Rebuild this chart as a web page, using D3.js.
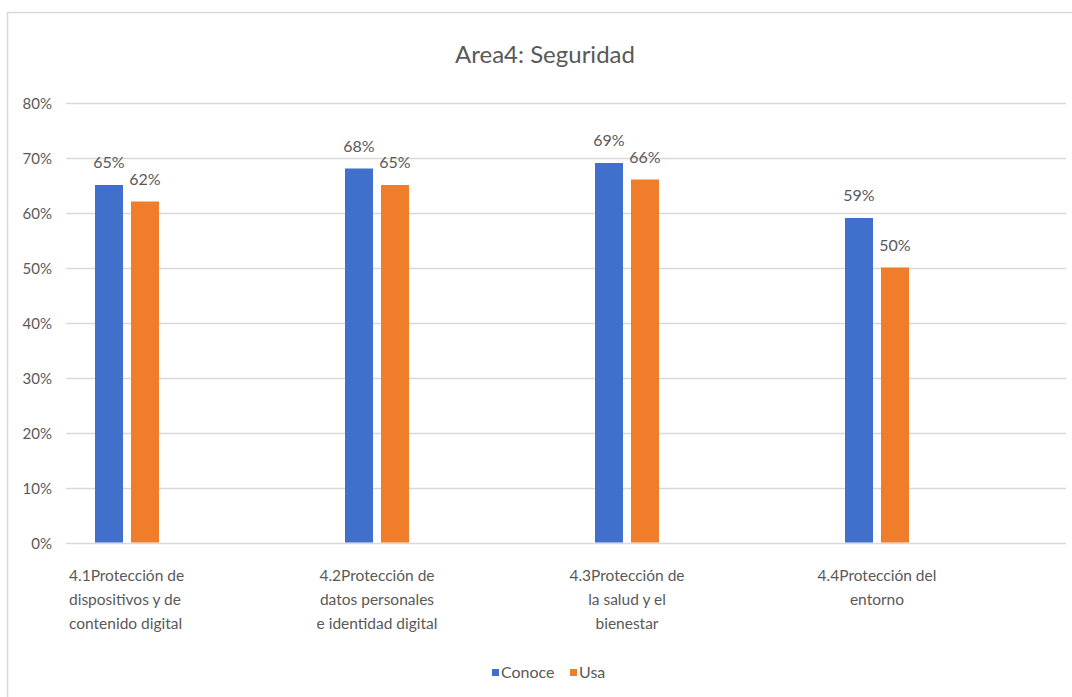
<!DOCTYPE html>
<html>
<head>
<meta charset="utf-8">
<script src="https://cdn.jsdelivr.net/npm/d3@7"></script>
<style>
  html, body { margin: 0; padding: 0; background: #fff; }
  svg { display: block; }
  text { font-family: Lato, "Noto Sans", sans-serif; fill: #595959; }
</style>
</head>
<body>
<svg id="chart" width="1072" height="697"></svg>
<script>
// Chart content
const title = "Area4: Seguridad";
const categories = [
  "4.1Protección de\ndispositivos y de\ncontenido digital",
  "4.2Protección de\ndatos personales\ne identidad digital",
  "4.3Protección de\nla salud y el\nbienestar",
  "4.4Protección del\nentorno"
];
const seriesNames = ["Conoce", "Usa"];
const conoce = [0.65, 0.68, 0.69, 0.59];
const usa = [0.62, 0.65, 0.66, 0.50];
const yTicks = [0, 0.1, 0.2, 0.3, 0.4, 0.5, 0.6, 0.7, 0.8];
const colors = ["#4170cc", "#f07d2a"];

const seriesValues = [conoce, usa];
const rows = categories.map((c, i) => ({
  cat: c,
  values: seriesNames.map((s, j) => ({ series: s, value: seriesValues[j][i] }))
}));

const svg = d3.select("#chart");

// frame
svg.append("path")
  .attr("d", "M7.5,697 V12.5 H1072")
  .attr("fill", "none")
  .attr("stroke", "#d9d9d9")
  .attr("stroke-width", 1.5);

const y = d3.scaleLinear().domain([0, 0.8]).range([542.5, 102.5]);
const x0 = d3.scaleBand().domain(categories).range([2, 1002]).padding(0);
const x1 = d3.scaleBand().domain(seriesNames).range([-32, 32]).paddingInner(0.222).paddingOuter(0);
const color = d3.scaleOrdinal().domain(seriesNames).range(colors);
const center = c => x0(c) + x0.bandwidth() / 2;

// title
svg.append("text")
  .attr("x", 545).attr("y", 63)
  .attr("text-anchor", "middle")
  .style("font-size", "24px")
  .text(title);

// gridlines + y axis labels
const grid = svg.append("g");
grid.selectAll("line").data(yTicks).join("line")
  .attr("x1", 66).attr("x2", 1066)
  .attr("y1", d => Math.round(y(d)) + 0.5)
  .attr("y2", d => Math.round(y(d)) + 0.5)
  .attr("stroke", "#d9d9d9")
  .attr("stroke-width", 1.3);

const fmt = d3.format(".0%");
grid.selectAll("text").data(yTicks).join("text")
  .attr("x", 52)
  .attr("y", d => y(d) + 6)
  .attr("text-anchor", "end")
  .style("font-size", "15px")
  .text(d => fmt(d));

// bars
const groups = svg.append("g").selectAll("g").data(rows).join("g")
  .attr("transform", d => `translate(${center(d.cat)},0)`);

groups.selectAll("rect").data(d => d.values).join("rect")
  .attr("x", d => x1(d.series))
  .attr("width", x1.bandwidth())
  .attr("y", d => y(d.value))
  .attr("height", d => y(0) - y(d.value))
  .attr("fill", d => color(d.series));

groups.selectAll("text.val").data(d => d.values).join("text")
  .attr("class", "val")
  .attr("x", d => x1(d.series) + x1.bandwidth() / 2)
  .attr("y", d => y(d.value) - 17)
  .attr("text-anchor", "middle")
  .style("font-size", "16px")
  .text(d => fmt(d.value));

// category labels
const catLabels = svg.append("g").selectAll("text").data(categories).join("text")
  .attr("text-anchor", (d, i) => i === 0 ? "start" : "middle")
  .attr("x", (d, i) => i === 0 ? 69 : center(d))
  .attr("y", 581)
  .style("font-size", "15.5px");
catLabels.selectAll("tspan").data(d => d.split("\n")).join("tspan")
  .attr("x", function () { return d3.select(this.parentNode).attr("x"); })
  .attr("dy", (d, i) => i === 0 ? 0 : 24)
  .text(d => d);

// legend
const legendX = [492, 570];
const legend = svg.append("g").selectAll("g").data(seriesNames).join("g")
  .attr("transform", (d, i) => `translate(${legendX[i]},669)`);
legend.append("rect")
  .attr("width", 7).attr("height", 7)
  .attr("fill", d => color(d));
legend.append("text")
  .attr("x", 9).attr("y", 9)
  .style("font-size", "16px")
  .text(d => d);
</script>
</body>
</html>
